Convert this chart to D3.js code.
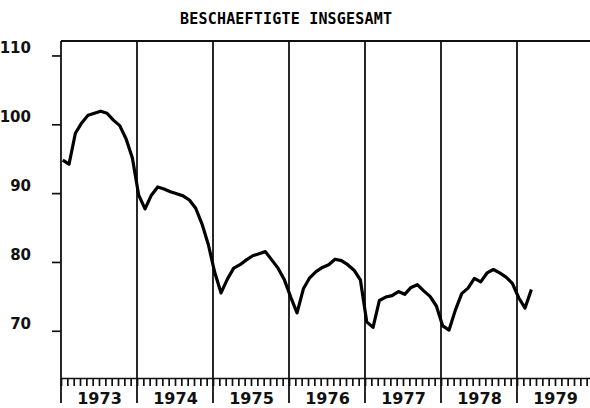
<!DOCTYPE html>
<html>
<head>
<meta charset="utf-8">
<script src="https://cdn.jsdelivr.net/npm/d3@7"></script>
<style>
  body { margin: 0; background: #fff; }
  svg { display: block; }
  .axis path, .axis line { stroke: #111; stroke-width: 1.7; }
  .axis text { font-family: "DejaVu Sans", sans-serif; font-weight: bold; font-size: 15px; fill: #111; }
  .axis-years text { font-size: 16px; }
</style>
</head>
<body>
<div id="chart"></div>
<script>
// Data: monthly values starting January 1973
const years = [1973, 1974, 1975, 1976, 1977, 1978, 1979];
const yTicks = [70, 80, 90, 100, 110];
const title = "BESCHAEFTIGTE INSGESAMT";
const values = [
  94.8, 94.2, 98.7, 100.2, 101.3, 101.6, 101.9, 101.6, 100.6, 99.8, 97.9, 95.1,   // 1973
  89.7, 87.7, 89.7, 90.9, 90.6, 90.2, 89.9, 89.6, 89.0, 87.8, 85.5, 82.5,        // 1974
  78.5, 75.5, 77.5, 79.1, 79.6, 80.3, 80.9, 81.2, 81.5, 80.3, 79.1, 77.4,        // 1975
  74.9, 72.6, 76.1, 77.7, 78.6, 79.2, 79.6, 80.4, 80.2, 79.6, 78.8, 77.4,        // 1976
  71.3, 70.5, 74.4, 74.9, 75.1, 75.7, 75.3, 76.3, 76.7, 75.8, 75.0, 73.6,        // 1977
  70.7, 70.1, 73.0, 75.4, 76.2, 77.6, 77.1, 78.4, 78.9, 78.4, 77.8, 76.9,        // 1978
  74.8, 73.3, 76.0                                                               // 1979
];

const width = 590;
const height = 408;
const margin = { top: 41, right: 0, bottom: 30, left: 61 };
const innerBottom = 378;

const svg = d3.select("#chart")
  .append("svg")
    .attr("width", width)
    .attr("height", height);

/****************************/
/*    Declare the scales    */
/****************************/
const xScale = d3.scaleLinear()
  .domain([1973, 1980])
  .range([margin.left, 593]);

const yScale = d3.scaleLinear()
  .domain([63.14, 112.1])
  .range([innerBottom, margin.top]);

const monthOffset = 0.27; // points sit a bit after the month start

// Title
svg.append("text")
  .attr("x", 286)
  .attr("y", 24)
  .attr("text-anchor", "middle")
  .attr("font-family", "DejaVu Sans Mono, monospace")
  .attr("font-weight", "bold")
  .attr("font-size", 15)
  .attr("textLength", 212)
  .attr("lengthAdjust", "spacing")
  .text(title);

/***************************/
/*     Append the axes     */
/***************************/
// Top frame line
svg.append("line")
  .attr("x1", margin.left).attr("x2", width)
  .attr("y1", margin.top).attr("y2", margin.top)
  .attr("stroke", "#111").attr("stroke-width", 1.8);

// Monthly ticks on the bottom axis
const months = d3.range(0, 7 * 12 + 1).map(m => 1973 + m / 12);
svg.append("g")
    .attr("class", "axis axis-x")
    .attr("transform", `translate(0, ${innerBottom})`)
    .call(d3.axisBottom(xScale)
      .tickValues(months)
      .tickSize(8)
      .tickSizeOuter(0)
      .tickFormat(""));

// Year labels, centred in each year
svg.append("g")
    .attr("class", "axis axis-years")
    .attr("transform", `translate(0, ${innerBottom})`)
    .call(d3.axisBottom(xScale)
      .tickValues(years.map(y => y + 0.5))
      .tickSize(0)
      .tickPadding(15)
      .tickFormat((d, i) => years[i]))
    .call(g => g.select(".domain").remove());

// Year boundary lines (also the long ticks below the axis)
svg.append("g")
  .selectAll("line")
  .data(years)
  .join("line")
    .attr("x1", d => xScale(d))
    .attr("x2", d => xScale(d))
    .attr("y1", margin.top)
    .attr("y2", 403)
    .attr("stroke", "#111")
    .attr("stroke-width", 1.8);

// Left axis
svg.append("g")
    .attr("class", "axis axis-y")
    .attr("transform", `translate(${margin.left}, 0)`)
    .call(d3.axisLeft(yScale)
      .tickValues(yTicks)
      .tickSize(9)
      .tickSizeOuter(0)
      .tickPadding(21))
    .call(g => g.select(".domain").remove())
    .call(g => g.selectAll("text").attr("dy", "-0.18em"));

/***********************/
/*     Line chart      */
/***********************/
const lineGenerator = d3.line()
  .x((d, i) => xScale(1973 + (i + monthOffset) / 12))
  .y(d => yScale(d));

svg.append("path")
  .attr("d", lineGenerator(values))
  .attr("fill", "none")
  .attr("stroke", "#000")
  .attr("stroke-width", 3.2)
  .attr("stroke-linejoin", "round");
</script>
</body>
</html>
